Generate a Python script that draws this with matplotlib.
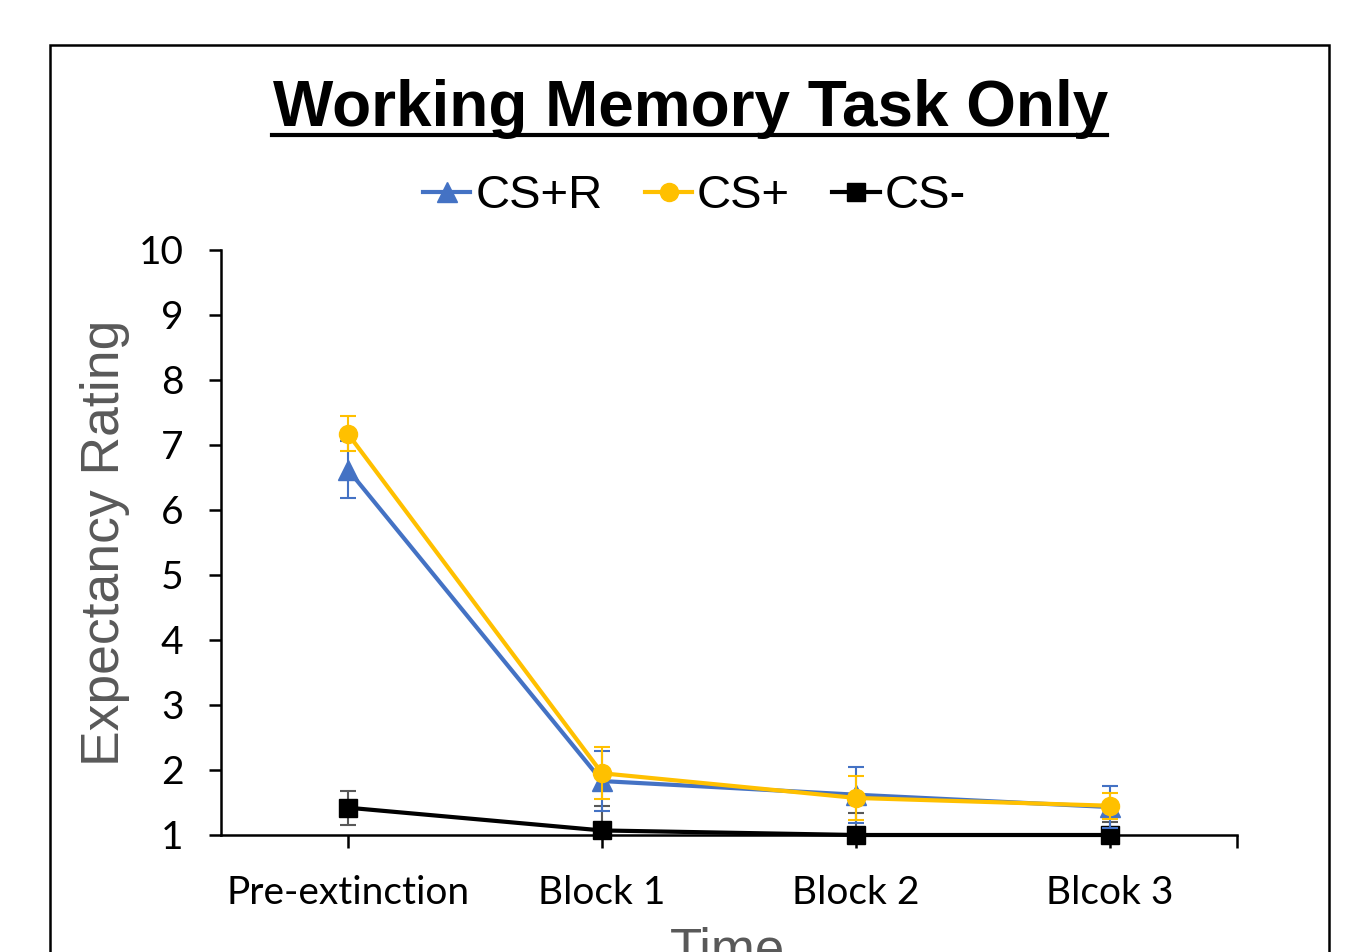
import matplotlib
matplotlib.use("Agg")
import matplotlib.pyplot as plt
from matplotlib.patches import Rectangle
from matplotlib.lines import Line2D

categories = ["Pre-extinction", "Block 1", "Block 2", "Blcok 3"]
cs_r = [6.62, 1.83, 1.62, 1.43]
cs_r_err = [0.44, 0.46, 0.43, 0.32]
cs_plus = [7.17, 1.95, 1.57, 1.45]
cs_plus_err = [0.27, 0.40, 0.34, 0.20]
cs_minus = [1.42, 1.07, 1.00, 1.00]
cs_minus_err = [0.26, 0.38, 0.34, 0.20]
yticks = [1, 2, 3, 4, 5, 6, 7, 8, 9, 10]

BLUE = "#4472C4"
YELLOW = "#FFC000"

fig = plt.figure(figsize=(13.67, 9.52), dpi=100)
ax = fig.add_axes([0.1617, 0.1229, 0.7432, 0.6145])

x = list(range(len(categories)))

series = [
    (cs_minus, cs_minus_err, "black", "#595959", "s", 13, 3),
    (cs_r, cs_r_err, BLUE, BLUE, "^", 14, 4),
    (cs_plus, cs_plus_err, YELLOW, YELLOW, "o", 13, 5),
]
for vals, err, col, ecol, mk, ms, z in series:
    ax.errorbar(x, vals, yerr=err, fmt="none", ecolor=ecol, elinewidth=1.5,
                capsize=6, capthick=1.5, zorder=z)
    ax.plot(x, vals, color=col, lw=3.0, marker=mk, markersize=ms,
            clip_on=False, zorder=z)

ax.set_xlim(-0.5, 3.5)
ax.set_ylim(1, 10)
ax.set_yticks(yticks)
ax.set_yticklabels([str(v) for v in yticks], fontname="Lato", fontsize=28)
ax.set_xticks(x + [3.5])
ax.set_xticklabels(categories + [""], fontname="Lato", fontsize=28)
ax.tick_params(axis="both", direction="out", length=9, width=1.8, colors="black")
ax.tick_params(axis="y", pad=18)
ax.tick_params(axis="x", pad=20)
for s in ["top", "right"]:
    ax.spines[s].set_visible(False)
for s in ["left", "bottom"]:
    ax.spines[s].set_linewidth(1.8)

ax.set_ylabel("Expectancy Rating", fontname="Liberation Sans", fontsize=38.5,
              color="#595959", labelpad=6)
fig.text(0.532, 0.0, "Time", fontname="Liberation Sans", fontsize=38,
         color="#595959", ha="center", va="center")

fig.text(0.505, 0.886, "Working Memory Task Only", fontname="Liberation Sans",
         fontsize=46, fontweight="bold", ha="center", va="center")
fig.add_artist(Line2D([272 / 1367, 1107 / 1367], [1 - 135 / 952, 1 - 135 / 952],
                      color="black", lw=3))

handles = [
    Line2D([], [], color=BLUE, lw=3.0, marker="^", markersize=14),
    Line2D([], [], color=YELLOW, lw=3.0, marker="o", markersize=13),
    Line2D([], [], color="black", lw=3.0, marker="s", markersize=13),
]
fig.legend(handles, ["CS+R", "CS+", "CS-"], loc="center",
           bbox_to_anchor=(0.508, 0.794), ncol=3, frameon=False,
           prop={"family": "Liberation Sans", "size": 34},
           handlelength=1.0, handletextpad=0.1, columnspacing=0.9)

fig.add_artist(Rectangle((50 / 1367, -0.1), (1329 - 50) / 1367, 1.1 - 45 / 952,
                         transform=fig.transFigure, fill=False, edgecolor="black",
                         lw=1.8))

fig.savefig("out.png", dpi=100)
